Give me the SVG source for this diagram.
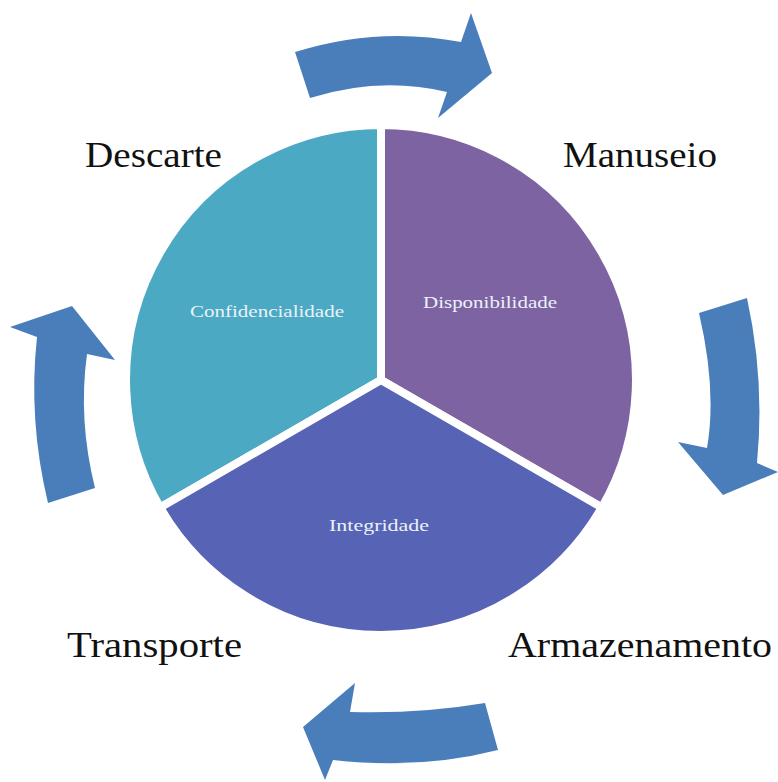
<svg xmlns="http://www.w3.org/2000/svg" width="778" height="782" viewBox="0 0 778 782">
<style>
.slice{stroke:#ffffff;stroke-width:8;stroke-linejoin:round}
.arrow{fill:#4A7EBB}
.outer{font-family:"Liberation Serif","DejaVu Serif",serif;font-size:36px;fill:#111111}
.inner{font-family:"Liberation Serif","DejaVu Serif",serif;font-size:17px;fill:#EAF2F8}
</style>
<rect width="778" height="782" fill="#ffffff"/>
<g id="node-confidencialidade">
<path class="slice" fill="#4BA9C3" d="M381,380 L381,125 A255,255 0 0 0 160.2,507.5 Z"/>
<text class="inner" x="190" y="317" textLength="154" lengthAdjust="spacingAndGlyphs">Confidencialidade</text>
</g>
<g id="node-disponibilidade">
<path class="slice" fill="#7E63A2" d="M381,380 L381,125 A255,255 0 0 1 601.8,507.5 Z"/>
<text class="inner" x="423" y="308" textLength="134" lengthAdjust="spacingAndGlyphs">Disponibilidade</text>
</g>
<g id="node-integridade">
<path class="slice" fill="#5763B4" d="M381,380 L160.2,507.5 A255,255 0 0 0 601.8,507.5 Z"/>
<text class="inner" x="329" y="531" textLength="100" lengthAdjust="spacingAndGlyphs">Integridade</text>
</g>
<g id="node-descarte">
<text class="outer" x="85" y="167" textLength="137" lengthAdjust="spacingAndGlyphs">Descarte</text>
</g>
<g id="node-manuseio">
<text class="outer" x="563" y="167" textLength="154" lengthAdjust="spacingAndGlyphs">Manuseio</text>
</g>
<g id="node-transporte">
<text class="outer" x="67" y="657" textLength="175" lengthAdjust="spacingAndGlyphs">Transporte</text>
</g>
<g id="node-armazenamento">
<text class="outer" x="508" y="657" textLength="264" lengthAdjust="spacingAndGlyphs">Armazenamento</text>
</g>
<g id="connectors">
<path class="arrow" d="M295,52 Q378,26 461,42 L471,13 L492,73 L438,118 L447,92 Q380,76 310,98 Z"/>
<path class="arrow" d="M699,313 Q717,390 707,448 L678,442 L723,495 L778,472 L757,463 Q765,380 747,298 Z"/>
<path class="arrow" d="M303,727 L355,683 L350,712 Q420,714 485,703 L498,750 Q420,770 333,760 L325,780 Z"/>
<path class="arrow" d="M72,306 L10,327 L37,337 Q28,420 48,503 L95,488 Q78,420 87,354 L115,360 Z"/>
</g>
</svg>
